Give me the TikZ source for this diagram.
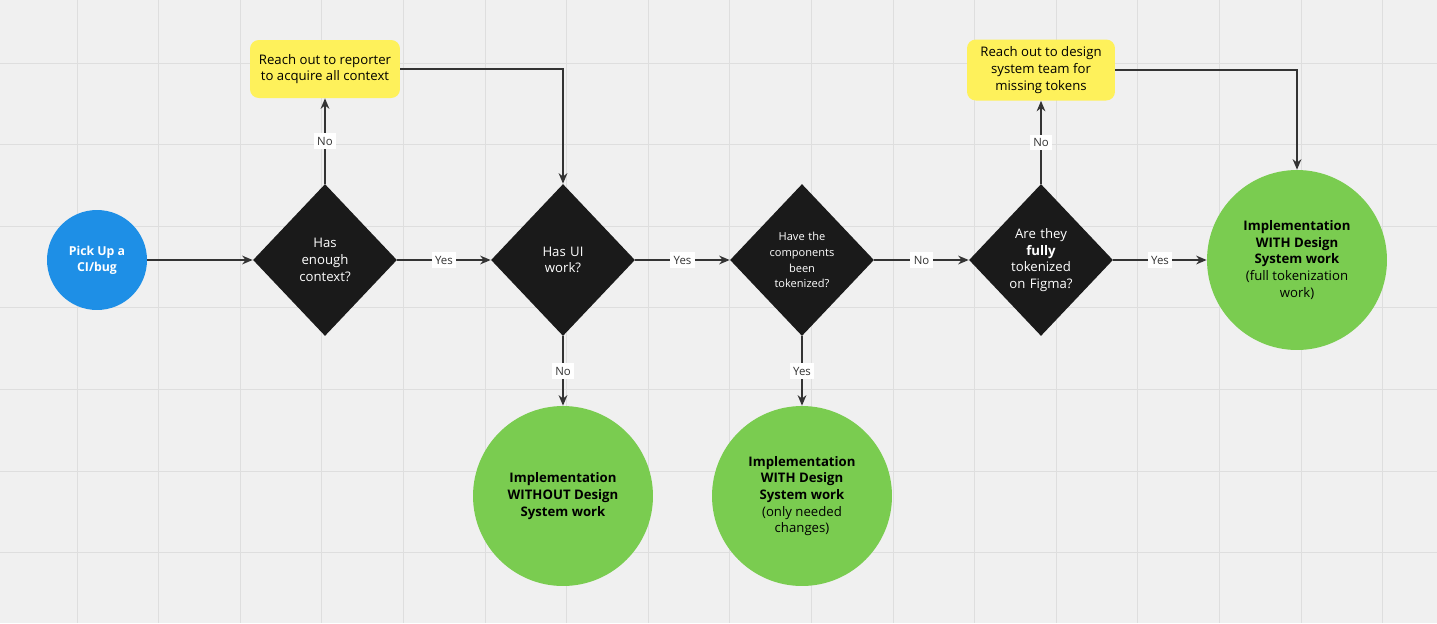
\documentclass[tikz,border=0pt]{standalone}
\usepackage{fontspec}
\setmainfont{Open Sans}
\usetikzlibrary{shapes.geometric,arrows.meta}
\definecolor{bgc}{HTML}{F0F0F0}
\definecolor{gridc}{HTML}{DEDEDE}
\definecolor{bluec}{HTML}{1E8FE6}
\definecolor{greenc}{HTML}{7ACC50}
\definecolor{yellowc}{HTML}{FEF15B}
\definecolor{darkc}{HTML}{1A1A1A}
\definecolor{linec}{HTML}{333333}
\tikzset{
  decision/.style={diamond, fill=darkc, text=white, inner sep=0pt, minimum width=2.88cm, minimum height=3.04cm, align=center, font=\fontsize{7.5}{9.5}\selectfont},
  note/.style={rectangle, rounded corners=5pt, fill=yellowc, align=center, inner sep=2pt, font=\fontsize{7.5}{9.5}\selectfont},
  result/.style={circle, fill=greenc, minimum size=3.6cm, inner sep=0pt, align=center, font=\fontsize{7.5}{9.5}\selectfont},
  flow/.style={-{Stealth[length=6pt,width=5pt]}, linec, line width=0.7pt},
  tag/.style={fill=white, inner sep=2pt, font=\fontsize{6.5}{8}\selectfont}
}
\begin{document}
\begin{tikzpicture}[x=0.02cm, y=-0.02cm]
    % Sfondo e griglia
    \fill[bgc] (0,0) rectangle (1437,623);
    \useasboundingbox (0,0) rectangle (1437,623);
    \foreach \i in {0,...,16} {
        \draw[gridc, line width=0.5pt] ({77+81.6*\i},0) -- ({77+81.6*\i},623);
    }
    \foreach \j in {0,...,6} {
        \draw[gridc, line width=0.5pt] (0,{63+81.6*\j}) -- (1437,{63+81.6*\j});
    }

    % Nodi
    \node[circle, fill=bluec, text=white, minimum size=2cm, inner sep=0pt, align=center, font=\fontsize{7}{9}\selectfont\bfseries] (start) at (97,260) {Pick Up a\\CI/bug};
    \node[decision, text width=1.3cm] (context) at (325,260) {Has\\enough\\context?};
    \node[decision, text width=1.3cm] (uiwork) at (563,260) {Has UI\\work?};
    \node[decision, text width=1.5cm, font=\fontsize{6.3}{9}\selectfont] (tokenized) at (802,260) {Have the\\components\\been\\tokenized?};
    \node[decision, text width=1.5cm] (figma) at (1041,260) {Are they\\\textbf{fully}\\tokenized\\on Figma?};
    \node[note, minimum width=3cm, minimum height=1.16cm] (reporter) at (325,69) {Reach out to reporter\\to acquire all context};
    \node[note, minimum width=2.96cm, minimum height=1.22cm] (team) at (1041,70) {Reach out to design\\system team for\\missing tokens};
    \node[result] (full) at (1297,260) {\textbf{Implementation}\\\textbf{WITH Design}\\\textbf{System work}\\(full tokenization\\work)};
    \node[result] (without) at (563,496) {\textbf{Implementation}\\\textbf{WITHOUT Design}\\\textbf{System work}};
    \node[result] (needed) at (802,496) {\textbf{Implementation}\\\textbf{WITH Design}\\\textbf{System work}\\(only needed\\changes)};

    % Connettori
    \draw[flow] (start) -- (context);
    \draw[flow] (context) -- (uiwork) node[tag, midway] {Yes};
    \draw[flow] (uiwork) -- (tokenized) node[tag, midway] {Yes};
    \draw[flow] (tokenized) -- (figma) node[tag, midway] {No};
    \draw[flow] (figma) -- (full) node[tag, midway] {Yes};
    \draw[flow] (context.north) -- (reporter.south) node[tag, midway] {No};
    \draw[flow] (figma.north) -- (team.south) node[tag, midway] {No};
    \draw[flow] (uiwork.south) -- (without.north) node[tag, midway] {No};
    \draw[flow] (tokenized.south) -- (needed.north) node[tag, midway] {Yes};
    \draw[flow] (reporter.east) -| (uiwork.north);
    \draw[flow] (team.east) -| (full.north);
\end{tikzpicture}
\end{document}
